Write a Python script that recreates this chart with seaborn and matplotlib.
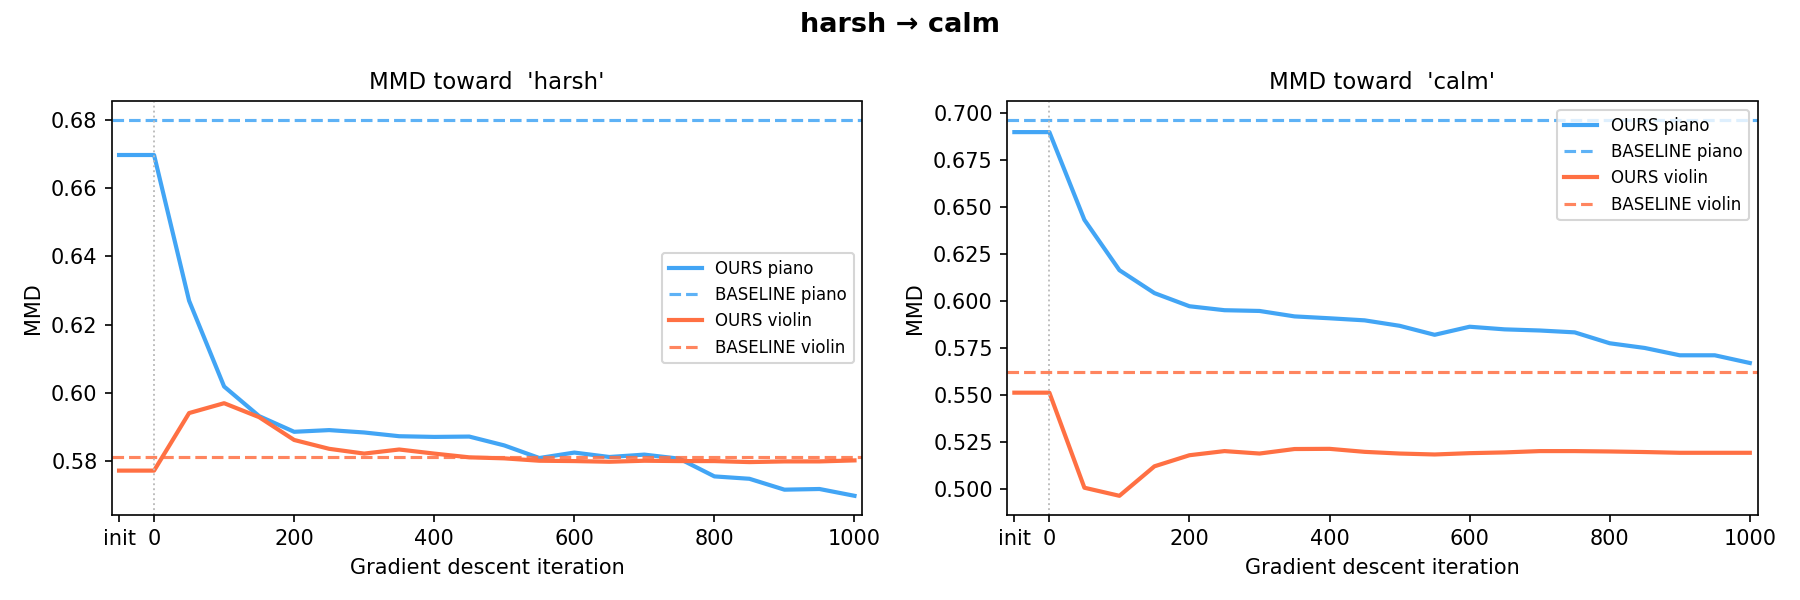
import matplotlib
matplotlib.use("Agg")
import matplotlib.pyplot as plt
import seaborn as sns
import pandas as pd

# iterations ("init" is drawn at -50)
steps = [-50, 0, 50, 100, 150, 200, 250, 300, 350, 400, 450, 500,
         550, 600, 650, 700, 750, 800, 850, 900, 950, 1000]
tick_pos = [-50, 0, 200, 400, 600, 800, 1000]
tick_labels = ["init", "0", "200", "400", "600", "800", "1000"]

# MMD toward 'harsh'
harsh_piano = [0.6698, 0.6698, 0.6270, 0.6018, 0.5931, 0.5885, 0.5890, 0.5883,
               0.5872, 0.5870, 0.5871, 0.5845, 0.5808, 0.5824, 0.5811, 0.5818,
               0.5806, 0.5754, 0.5747, 0.5715, 0.5717, 0.5697]
harsh_violin = [0.5771, 0.5771, 0.5940, 0.5969, 0.5928, 0.5861, 0.5835, 0.5821,
                0.5833, 0.5821, 0.5810, 0.5807, 0.5800, 0.5799, 0.5797, 0.5800,
                0.5799, 0.5799, 0.5796, 0.5798, 0.5798, 0.5801]
harsh_base_piano = 0.6800
harsh_base_violin = 0.5812

# MMD toward 'calm'
calm_piano = [0.6900, 0.6900, 0.6433, 0.6165, 0.6043, 0.5973, 0.5952, 0.5948,
              0.5919, 0.5909, 0.5898, 0.5869, 0.5821, 0.5864, 0.5850, 0.5844,
              0.5834, 0.5776, 0.5751, 0.5712, 0.5712, 0.5671]
calm_violin = [0.5513, 0.5513, 0.5007, 0.4964, 0.5121, 0.5180, 0.5202, 0.5189,
               0.5213, 0.5214, 0.5198, 0.5189, 0.5184, 0.5191, 0.5195, 0.5202,
               0.5202, 0.5200, 0.5197, 0.5193, 0.5193, 0.5193]
calm_base_piano = 0.6963
calm_base_violin = 0.5621

BLUE = "#42a5f5"
ORANGE = "#ff7043"

plt.rcParams["font.family"] = ["DejaVu Sans"]

fig, axes = plt.subplots(1, 2, figsize=(12, 4), dpi=150)

panels = [
    ("harsh", harsh_piano, harsh_violin, harsh_base_piano, harsh_base_violin, "center right"),
    ("calm", calm_piano, calm_violin, calm_base_piano, calm_base_violin, "upper right"),
]

for ax, (name, piano, violin, bp, bv, loc) in zip(axes, panels):
    df = pd.DataFrame({"step": steps, "piano": piano, "violin": violin})
    sns.lineplot(data=df, x="step", y="piano", ax=ax, color=BLUE, lw=2,
                 label="OURS piano")
    ax.axhline(bp, color=BLUE, ls="--", lw=1.5, alpha=0.85, label="BASELINE piano")
    sns.lineplot(data=df, x="step", y="violin", ax=ax, color=ORANGE, lw=2,
                 label="OURS violin")
    ax.axhline(bv, color=ORANGE, ls="--", lw=1.5, alpha=0.85, label="BASELINE violin")
    ax.axvline(0, color="#bbbbbb", ls=":", lw=0.9)
    ax.set_xticks(tick_pos)
    ax.set_xticklabels(tick_labels)
    ax.set_xlim(-60, 1011)
    ax.set_title(f"MMD toward  '{name}'", fontsize=11)
    ax.set_xlabel("Gradient descent iteration", fontsize=10)
    ax.set_ylabel("MMD", fontsize=10)
    ax.legend(loc=loc, fontsize=8)

axes[1].yaxis.set_major_formatter(matplotlib.ticker.FormatStrFormatter("%.3f"))

fig.suptitle("harsh → calm", fontsize=13, fontweight="bold")
fig.tight_layout()
fig.savefig("out.png", dpi=150)
